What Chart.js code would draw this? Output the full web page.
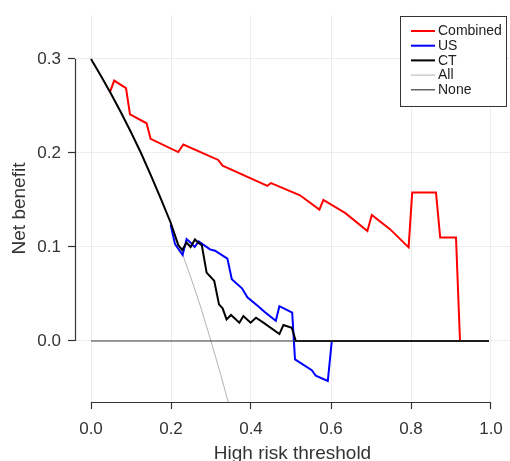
<!DOCTYPE html>
<html><head><meta charset="utf-8">
<script src="https://cdn.jsdelivr.net/npm/chart.js@4.4.1/dist/chart.umd.min.js"></script>
<style>html,body{margin:0;padding:0;background:#fff}#wrap{width:510px;height:461px;position:relative}</style>
</head><body><div id="wrap"><canvas id="c" width="510" height="461"></canvas></div>
<script>
// ---- data ----
const seriesNames = ['Combined', 'US', 'CT', 'All', 'None'];
const xTickValues = [0, 0.2, 0.4, 0.6, 0.8, 1.0];
const yTickValues = [0, 0.1, 0.2, 0.3];

const combinedX = [0.0475, 0.058, 0.0875, 0.0975, 0.139, 0.149, 0.218, 0.231, 0.318, 0.329, 0.441, 0.45, 0.4725, 0.5225, 0.571, 0.581, 0.636, 0.691, 0.702, 0.7475, 0.794, 0.803, 0.8625, 0.873, 0.9125, 0.9225];
const combinedY = [0.265, 0.277, 0.269, 0.241, 0.2316, 0.215, 0.201, 0.209, 0.1926, 0.1866, 0.165, 0.168, 0.164, 0.155, 0.1397, 0.150, 0.136, 0.117, 0.134, 0.119, 0.0996, 0.158, 0.158, 0.110, 0.110, 0.0];

const usX = [0.199, 0.21, 0.229, 0.239, 0.249, 0.259, 0.269, 0.2975, 0.31, 0.341, 0.352, 0.3775, 0.391, 0.418, 0.435, 0.462, 0.471, 0.503, 0.51, 0.552, 0.562, 0.592, 0.602];
const usY = [0.124, 0.103, 0.0915, 0.1085, 0.1046, 0.100, 0.106, 0.0975, 0.096, 0.0876, 0.0656, 0.056, 0.0465, 0.037, 0.0305, 0.0216, 0.037, 0.0301, -0.0195, -0.031, -0.037, -0.0425, 0.0];

const ctX = [0, 0.025, 0.05, 0.075, 0.1, 0.125, 0.15, 0.175, 0.2, 0.218, 0.228, 0.239, 0.249, 0.26, 0.268, 0.277, 0.289, 0.308, 0.32, 0.329, 0.339, 0.35, 0.371, 0.381, 0.399, 0.4125, 0.431, 0.471, 0.481, 0.502, 0.512, 0.995];
const ctY = [0.300, 0.282, 0.263, 0.243, 0.222, 0.200, 0.176, 0.151, 0.125, 0.102, 0.0968, 0.1046, 0.100, 0.108, 0.1046, 0.102, 0.0727, 0.064, 0.039, 0.0347, 0.023, 0.0277, 0.0195, 0.0266, 0.0195, 0.0248, 0.0195, 0.0074, 0.017, 0.0141, 0.0, 0.0];

const allX = [0, 0.025, 0.05, 0.075, 0.1, 0.125, 0.15, 0.175, 0.2, 0.225, 0.25, 0.275, 0.3, 0.325, 0.343];
const allY = [0.300, 0.282, 0.263, 0.243, 0.222, 0.200, 0.176, 0.151, 0.125, 0.097, 0.067, 0.035, 0.0, -0.037, -0.065];

const noneX = [0, 0.995];
const noneY = [0, 0];

const seriesColors = ['#ff0000', '#0000ff', '#000000', '#b4b4b4', '#3a3a3a'];

// ---- build ----
const pts = (xs, ys) => xs.map((x, i) => ({x: x, y: ys[i]}));
const seriesData = [pts(combinedX, combinedY), pts(usX, usY), pts(ctX, ctY), pts(allX, allY), pts(noneX, noneY)];
const widths = [2, 2, 2, 1, 1.2];
const orders = [2, 3, 1, 4, 0];

const FONT = "'Liberation Sans', Arial, Helvetica, sans-serif";

const frameAndLegend = {
  id: 'frameAndLegend',
  afterDraw(chart) {
    const ctx = chart.ctx;
    const xs = chart.scales.x, ys = chart.scales.y;
    ctx.save();
    ctx.strokeStyle = '#333';
    ctx.lineWidth = 1.2;
    // range-frame axis lines
    const ax = chart.chartArea.left + 0.5;
    ctx.beginPath();
    ctx.moveTo(ax, ys.getPixelForValue(yTickValues[yTickValues.length - 1]));
    ctx.lineTo(ax, ys.getPixelForValue(yTickValues[0]));
    ctx.stroke();
    const ay = chart.chartArea.bottom + 0.5;
    ctx.beginPath();
    ctx.moveTo(xs.getPixelForValue(xTickValues[0]), ay);
    ctx.lineTo(xs.getPixelForValue(xTickValues[xTickValues.length - 1]), ay);
    ctx.stroke();

    // legend box
    const bx = 400.5, by = 16.5, bw = 106, bh = 90;
    ctx.fillStyle = '#fff';
    ctx.fillRect(bx, by, bw, bh);
    ctx.strokeStyle = '#333';
    ctx.lineWidth = 1;
    ctx.strokeRect(bx, by, bw, bh);
    ctx.font = '14px ' + FONT;
    ctx.textBaseline = 'middle';
    ctx.textAlign = 'left';
    chart.data.datasets.forEach((ds, i) => {
      const yy = 31 + i * 14.7;
      ctx.strokeStyle = ds.borderColor;
      ctx.lineWidth = ds.borderWidth;
      ctx.beginPath();
      ctx.moveTo(411, yy);
      ctx.lineTo(435, yy);
      ctx.stroke();
      ctx.fillStyle = '#222';
      ctx.fillText(ds.label, 438, yy + 0.5);
    });
    ctx.restore();
  }
};

new Chart(document.getElementById('c'), {
  type: 'scatter',
  data: {
    datasets: seriesNames.map((n, i) => ({
      label: n,
      data: seriesData[i],
      showLine: true,
      borderColor: seriesColors[i],
      backgroundColor: seriesColors[i],
      borderWidth: widths[i],
      pointRadius: 0,
      pointHoverRadius: 0,
      tension: 0,
      fill: false,
      order: orders[i]
    }))
  },
  options: {
    responsive: false,
    devicePixelRatio: 1,
    animation: false,
    layout: {padding: {top: 15, right: 0, left: 0, bottom: 0}},
    plugins: {legend: {display: false}, tooltip: {enabled: false}},
    scales: {
      x: {
        type: 'linear',
        min: -0.04, max: 1.0475,
        afterBuildTicks: s => { s.ticks = xTickValues.map(v => ({value: v})); },
        afterFit: s => { s.height = 59; s.paddingLeft = 0; s.paddingRight = 0; },
        border: {display: false},
        grid: {color: '#ececec', lineWidth: 1, drawTicks: true, tickLength: 7, tickColor: '#333', tickWidth: 1.2},
        ticks: {color: '#333', font: {family: FONT, size: 17}, padding: 10, maxRotation: 0,
                callback: v => v.toFixed(1)},
        title: {display: true, text: 'High risk threshold', color: '#333',
                font: {family: FONT, size: 19, lineHeight: 0.8}, padding: {top: 0, bottom: 0}}
      },
      y: {
        type: 'linear',
        min: -0.0649, max: 0.3468,
        afterBuildTicks: s => { s.ticks = yTickValues.map(v => ({value: v})); },
        afterFit: s => { s.width = 75; s.paddingTop = 0; s.paddingBottom = 0; },
        border: {display: false},
        grid: {color: '#ececec', lineWidth: 1, drawTicks: true, tickLength: 7, tickColor: '#333', tickWidth: 1.2},
        ticks: {color: '#333', font: {family: FONT, size: 17}, padding: 7,
                callback: v => v.toFixed(1)},
        title: {display: true, text: 'Net benefit', color: '#333',
                font: {family: FONT, size: 19, lineHeight: 1}, padding: {top: 10, bottom: 0}}
      }
    }
  },
  plugins: [frameAndLegend]
});
</script>
</body></html>
